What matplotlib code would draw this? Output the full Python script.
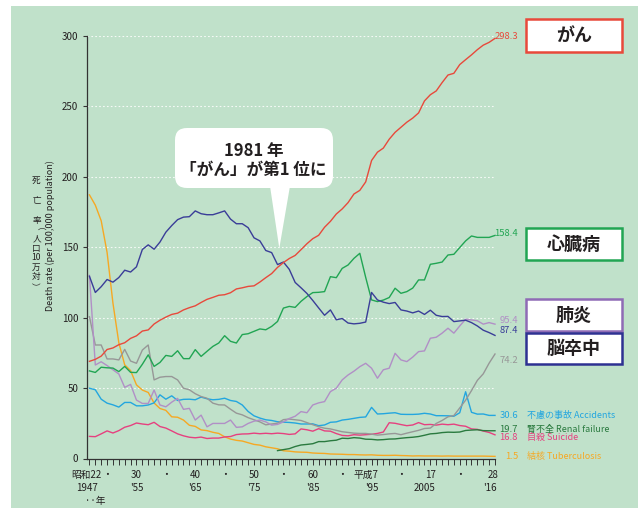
import numpy as np
import matplotlib
matplotlib.use('Agg')
import matplotlib.pyplot as plt
from matplotlib.patches import Rectangle, FancyBboxPatch, Polygon
import matplotlib.transforms as mtransforms

plt.rcParams['font.family'] = ['Noto Sans CJK JP', 'DejaVu Sans']

# ---------------- data (death rate per 100,000, 1947-2016) ----------------
years = np.arange(1947, 2017)

cancer = [69.0, 70.4, 72.7, 77.4, 78.5, 80.8, 82.2, 85.3, 87.1, 90.5,
          91.3, 95.5, 98.2, 100.4, 102.3, 103.2, 105.5, 107.1, 108.4, 110.8,
          113.0, 114.4, 115.9, 116.3, 117.7, 120.4, 121.2, 122.2, 122.6, 125.3,
          128.4, 131.3, 135.7, 139.1, 142.0, 144.2, 148.3, 152.5, 156.1, 158.5,
          164.2, 168.4, 173.6, 177.2, 181.7, 187.8, 190.4, 196.4, 211.6, 217.5,
          220.4, 226.7, 231.6, 235.2, 238.8, 241.7, 245.4, 253.9, 258.3, 261.0,
          266.9, 272.3, 273.5, 279.7, 283.2, 286.6, 290.3, 293.5, 295.5, 298.3]

heart = [62.2, 61.1, 64.8, 64.4, 64.2, 61.7, 65.4, 61.2, 61.0, 66.9,
         73.6, 65.4, 68.2, 73.2, 72.5, 76.5, 70.9, 70.9, 77.3, 72.5,
         76.1, 79.6, 82.0, 87.2, 83.2, 82.0, 88.0, 88.6, 90.3, 92.0,
         91.4, 93.8, 97.3, 106.8, 108.0, 107.3, 111.6, 115.0, 117.8, 118.0,
         118.5, 129.1, 128.4, 135.0, 137.4, 142.1, 145.7, 128.6, 112.6, 111.4,
         112.5, 114.3, 120.9, 117.3, 118.5, 121.0, 126.8, 126.8, 137.9, 138.6,
         139.5, 144.5, 145.0, 149.8, 154.5, 158.0, 157.0, 157.0, 157.0, 158.4]

stroke = [129.4, 117.9, 122.0, 127.1, 125.2, 128.5, 133.7, 132.4, 136.1, 148.4,
          151.7, 148.6, 153.7, 160.7, 165.4, 169.6, 171.4, 171.7, 175.8, 173.8,
          173.1, 173.1, 174.4, 175.8, 170.0, 166.7, 166.7, 163.9, 156.7, 154.5,
          147.7, 146.2, 137.7, 139.5, 134.3, 125.0, 121.2, 117.2, 112.2, 106.9,
          101.7, 105.5, 98.5, 99.4, 96.2, 95.6, 96.0, 96.9, 117.9, 112.6,
          111.0, 110.0, 110.8, 105.5, 104.7, 103.4, 104.7, 102.3, 105.3, 101.7,
          100.8, 100.9, 97.2, 97.7, 98.2, 96.5, 94.1, 91.1, 89.4, 87.4]

pneumonia = [130.0, 66.4, 68.7, 66.0, 63.0, 60.0, 50.5, 52.6, 41.5, 39.1,
             39.1, 48.6, 38.0, 36.7, 40.0, 42.7, 34.9, 35.6, 27.3, 30.8,
             22.5, 24.9, 24.9, 24.9, 27.3, 22.1, 22.5, 24.9, 26.5, 27.3,
             26.0, 23.7, 24.2, 26.0, 28.4, 30.0, 33.3, 32.5, 38.0, 39.5,
             40.4, 47.5, 49.9, 55.8, 59.3, 62.0, 65.2, 67.6, 64.1, 57.0,
             63.0, 64.1, 74.7, 70.0, 68.8, 72.0, 75.9, 76.4, 85.4, 86.1,
             89.0, 92.5, 89.0, 94.1, 98.9, 98.4, 97.8, 95.4, 96.5, 95.4]

senility = [100.7, 80.6, 80.6, 70.7, 70.7, 70.0, 77.5, 69.2, 67.6, 77.0,
            80.6, 55.8, 57.7, 58.2, 58.2, 55.8, 49.9, 48.8, 46.0, 44.0,
            42.8, 39.3, 38.1, 38.0, 35.0, 32.2, 31.0, 29.0, 27.5, 26.0,
            23.9, 24.5, 25.1, 27.6, 28.0, 27.5, 27.0, 25.5, 24.0, 22.6,
            21.5, 21.0, 20.0, 19.0, 18.5, 18.0, 17.8, 17.8, 17.3, 16.6,
            17.0, 17.5, 17.8, 16.9, 18.0, 19.0, 20.0, 21.3, 21.6, 24.9,
            27.0, 29.6, 30.5, 35.9, 41.4, 48.2, 55.5, 60.1, 67.7, 74.2]

accidents = [49.9, 48.8, 42.1, 39.3, 38.1, 36.5, 39.8, 39.8, 37.4, 37.4,
             38.0, 39.5, 45.2, 42.1, 44.5, 41.2, 42.0, 42.1, 41.7, 43.6,
             42.4, 41.7, 42.0, 42.8, 41.2, 40.5, 38.0, 33.4, 30.3, 28.7,
             27.5, 27.0, 26.1, 25.8, 25.6, 25.2, 24.5, 24.5, 24.6, 23.3,
             23.8, 25.7, 26.0, 27.3, 27.8, 28.5, 29.2, 29.5, 36.3, 31.6,
             31.8, 32.2, 32.5, 31.4, 31.3, 31.3, 31.5, 32.1, 31.6, 30.4,
             30.4, 30.3, 30.0, 32.5, 47.4, 32.8, 31.5, 31.6, 30.6, 30.6]

suicide = [15.7, 15.5, 17.5, 19.6, 18.1, 19.8, 22.2, 23.4, 25.2, 24.5,
           24.0, 25.7, 22.7, 21.6, 19.6, 17.5, 16.1, 15.1, 14.7, 15.2,
           14.2, 14.5, 14.5, 15.3, 15.6, 17.0, 17.4, 17.5, 18.0, 17.6,
           17.9, 17.6, 18.0, 17.7, 17.1, 17.5, 21.0, 20.4, 19.4, 21.2,
           19.6, 19.4, 17.7, 16.4, 16.1, 16.9, 16.6, 16.9, 17.2, 17.8,
           18.8, 25.4, 25.0, 24.1, 23.3, 23.8, 25.5, 24.0, 24.2, 23.7,
           24.4, 24.0, 24.4, 23.4, 22.9, 21.0, 20.7, 19.5, 18.5, 16.8]

tuberculosis = [187.2, 179.9, 168.8, 146.4, 110.3, 82.2, 66.5, 62.4, 52.3, 48.6,
                46.9, 39.4, 35.5, 34.2, 29.6, 29.3, 27.3, 23.6, 22.8, 20.3,
                19.8, 18.6, 17.8, 15.4, 13.8, 12.9, 12.4, 11.2, 10.0, 9.5,
                8.3, 7.6, 6.9, 5.5, 5.2, 4.7, 4.5, 4.4, 3.9, 3.7,
                3.6, 3.2, 3.1, 3.0, 2.8, 2.8, 2.6, 2.5, 2.6, 2.3,
                2.2, 2.2, 2.3, 2.1, 2.0, 1.8, 1.9, 1.8, 1.8, 1.8,
                1.7, 1.8, 1.7, 1.7, 1.7, 1.7, 1.7, 1.7, 1.6, 1.5]

# renal failure is only counted from 1979
renal_years = np.arange(1979, 2017)
renal = [5.6, 6.3, 7.0, 8.5, 9.6, 10.0, 10.5, 12.0, 12.0, 12.6,
         13.0, 14.4, 14.2, 14.8, 14.5, 13.7, 13.6, 13.2, 13.4, 13.8,
         13.9, 14.4, 14.8, 15.1, 15.6, 16.5, 17.5, 17.8, 18.4, 18.7,
         18.6, 18.8, 19.9, 20.2, 20.4, 19.8, 19.7, 19.7]

tick_years = [1947, 1950, 1955, 1960, 1965, 1970, 1975, 1980, 1985, 1990,
              1995, 2000, 2005, 2010, 2016]
wareki_labels = ['昭和22', '・', '30', '・', '40', '・', '50', '・', '60', '・',
                 '平成7', '・', '17', '・', '28']
seireki_labels = ['1947', '', "'55", '', "'65", '', "'75", '', "'85", '',
                  "'95", '', '2005', '', "'16"]

ytick_vals = [0, 50, 100, 150, 200, 250, 300]

# ---------------- colours ----------------
bg = '#c0e1ca'
txt = '#231f20'
c_cancer = '#e8493b'
c_heart = '#21a553'
c_stroke = '#3a3d98'
c_pneu = '#b18fc6'
c_sen = '#979797'
c_acc = '#23a6df'
c_sui = '#e6407f'
c_renal = '#2a7a3f'
c_tb = '#f6a823'

fig = plt.figure(figsize=(6.38, 5.08), dpi=100)
fig.patch.set_facecolor('white')
fig.patches.append(Rectangle((11 / 638, 0), 1, 502 / 508, transform=fig.transFigure,
                             facecolor=bg, edgecolor='none', zorder=-5))

ax = fig.add_axes([86.5 / 638, 49.5 / 508, (495 - 86.5) / 638, 422.5 / 508])
ax.set_facecolor('none')
ax.set_xlim(1946.5, 2016.0)
ax.set_ylim(0, 300)

for v in ytick_vals[1:]:
    ax.axhline(v, color='white', lw=0.8, ls=(0, (1.5, 2)), alpha=0.85, zorder=1)

lw = 1.0
series = [(tuberculosis, c_tb), (suicide, c_sui), (accidents, c_acc), (senility, c_sen),
          (pneumonia, c_pneu), (heart, c_heart), (stroke, c_stroke), (cancer, c_cancer)]
for vals, col in series:
    ax.plot(years, vals, color=col, lw=lw, zorder=3, clip_on=False)
ax.plot(renal_years, renal, color=c_renal, lw=lw, zorder=3, clip_on=False)

for s in ['top', 'right']:
    ax.spines[s].set_visible(False)
for s in ['left', 'bottom']:
    ax.spines[s].set_color('#333333')
    ax.spines[s].set_linewidth(0.9)
    ax.spines[s].set_zorder(4)

ax.set_yticks(ytick_vals)
ax.tick_params(axis='y', length=3, width=0.8, color='#333333', labelsize=7,
               labelcolor=txt, pad=3)
ax.set_xticks(years)
ax.set_xticklabels([])
ax.tick_params(axis='x', length=4.5, width=0.7, color='#333333')

# two rows of year labels (Japanese era / western year)
trans = mtransforms.blended_transform_factory(ax.transData, ax.transAxes)
for yr, w, s in zip(tick_years, wareki_labels, seireki_labels):
    xw = yr
    xs = yr
    if yr == 1947:
        xw = xs = 1946.5
    elif yr == 1995:
        xw = 1994.0
    elif yr == 2005:
        xs = 2004.0
    elif yr == 2016:
        xw, xs = 2015.6, 2015.1
    ax.text(xw, -0.039, w, transform=trans, ha='center', va='center',
            fontsize=7, color=txt)
    if s:
        ax.text(xs, -0.070, s, transform=trans, ha='center', va='center',
                fontsize=7, color=txt)
ax.text(1948.0, -0.101, '··年', transform=trans, ha='center', va='center',
        fontsize=7, color=txt)

# end-of-line values and names
end_labels = [
    (cancer[-1], c_cancer, 2, None),
    (heart[-1], c_heart, 1.5, None),
    (pneumonia[-1], c_pneu, 4, None),
    (stroke[-1], c_stroke, 4.5, None),
    (senility[-1], c_sen, -6.5, None),
    (accidents[-1], c_acc, 0, '不慮の事故 Accidents'),
    (renal[-1], c_renal, 1.5, '腎不全 Renal failure'),
    (suicide[-1], c_sui, -3, '自殺 Suicide'),
    (tuberculosis[-1], c_tb, -0.5, '結核 Tuberculosis'),
]
for val, col, dy, name in end_labels:
    ax.annotate(f'{val:.1f}', xy=(2016, val), xytext=(23, dy), textcoords='offset pixels',
                ha='right', va='center', fontsize=6.8, color=col, annotation_clip=False)
    if name:
        ax.annotate(name, xy=(2016, val), xytext=(32, dy), textcoords='offset pixels',
                    ha='left', va='center', fontsize=6.5, color=col, annotation_clip=False)

# y axis title: English rotated, Japanese set vertically
fig.text(50 / 638, 1 - 236 / 508, 'Death rate (per 100,000 population)', rotation=90,
         ha='center', va='center', fontsize=6.5, color=txt)
jp_chars = ['死', '亡', '率', '（', '人', '口', '10', '万', '対', '）']
jp_py = [180, 200, 221, 231, 239, 248, 257, 267, 276, 286]
jp_dx = [0, 0, 0, -2.5, 0, 0, 0, 0, 0, -2.5]
for ch, py, dx in zip(jp_chars, jp_py, jp_dx):
    rot = -90 if ch in '（）' else 0
    fig.text((36.5 + dx) / 638, 1 - py / 508, ch, ha='center', va='center', fontsize=6.2,
             color=txt, rotation=rot)

# category boxes on the right
inch = fig.dpi_scale_trans
boxes = [('がん', c_cancer, 19, 52), ('心臓病', c_heart, 228, 260),
         ('肺炎', '#8f6bb5', 299, 331), ('脳卒中', '#2e3192', 333, 364)]
for label, col, top, bot in boxes:
    fig.patches.append(Rectangle((5.26, (508 - bot) / 100), 0.96, (bot - top) / 100,
                                 transform=inch, facecolor='white', edgecolor=col,
                                 linewidth=1.8, zorder=5))
    fig.text(5.74, (508 - (top + bot) / 2) / 100, label, transform=inch, ha='center',
             va='center', fontsize=13, fontweight='bold', color=txt, zorder=6)

# callout
fig.patches.append(FancyBboxPatch((1.75, 3.20), 1.58, 0.60,
                                  boxstyle='round,pad=0,rounding_size=0.12',
                                  transform=inch, facecolor='white', edgecolor='none',
                                  zorder=5))
fig.patches.append(Polygon([(2.70, 3.22), (2.90, 3.22), (2.793, 2.597)], closed=True,
                           transform=inch, facecolor='white', edgecolor='none', zorder=5))
fig.text(2.535, 3.573, '1981 年', transform=inch, ha='center', va='center',
         fontsize=12, fontweight='bold', color=txt, zorder=6)
fig.text(2.535, 3.38, '「がん」が第1 位に', transform=inch, ha='center', va='center',
         fontsize=12, fontweight='bold', color=txt, zorder=6)

fig.savefig('out.png', dpi=100, facecolor=fig.get_facecolor())
